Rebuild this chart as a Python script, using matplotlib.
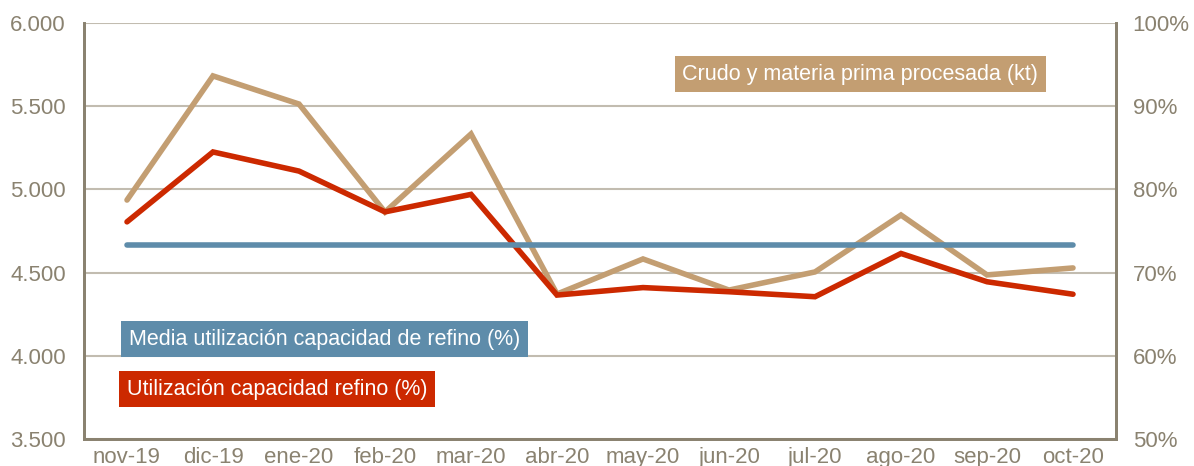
import matplotlib.pyplot as plt
import numpy as np

plt.rcParams['font.family'] = ['Liberation Sans', 'DejaVu Sans']

meses = ["nov-19", "dic-19", "ene-20", "feb-20", "mar-20", "abr-20",
         "may-20", "jun-20", "jul-20", "ago-20", "sep-20", "oct-20"]
crudo_kt = [4936, 5682, 5513, 4864, 5333, 4371, 4582, 4395, 4504, 4846, 4486, 4528]
utilizacion = [76.1, 84.5, 82.2, 77.3, 79.4, 67.3, 68.2, 67.7, 67.1, 72.3, 68.9, 67.4]
media_utilizacion = 73.3

c_tan = "#C39E72"
c_red = "#CC2900"
c_blue = "#5E8CAA"
c_axis = "#8A8270"
c_grid = "#C2BCB0"

x = np.arange(len(meses))

fig = plt.figure(figsize=(11.94, 4.66), dpi=100)
ax = fig.add_axes([84 / 1194, 1 - 439 / 466, 1032 / 1194, 416 / 466])
ax2 = ax.twinx()

ax.set_xlim(-0.5, len(meses) - 0.5)
ax.set_ylim(3500, 6000)
ax.set_yticks([3500, 4000, 4500, 5000, 5500, 6000])
ax.set_yticklabels(["3.500", "4.000", "4.500", "5.000", "5.500", "6.000"])
ax.grid(axis="y", color=c_grid, linewidth=1.5)
ax.set_axisbelow(True)

ax2.set_ylim(50, 100)
ax2.set_yticks([50, 60, 70, 80, 90, 100])
ax2.set_yticklabels([f"{v}%" for v in range(50, 101, 10)])

ax.set_xticks(x)
ax.set_xticklabels(meses)

for a in (ax, ax2):
    a.tick_params(length=0, labelsize=16, labelcolor=c_axis)
    a.spines["top"].set_visible(False)
    for s in ("left", "right", "bottom"):
        a.spines[s].set_color(c_axis)
        a.spines[s].set_linewidth(2)
ax.tick_params(axis="y", pad=13)
ax2.tick_params(axis="y", pad=12)
ax.tick_params(axis="x", pad=6)

ax.plot(x, crudo_kt, color=c_tan, linewidth=4, solid_capstyle="round",
        solid_joinstyle="miter")
ax2.plot(x, utilizacion, color=c_red, linewidth=4, solid_capstyle="round",
         solid_joinstyle="miter")
ax2.plot(x, np.full(len(meses), media_utilizacion), color=c_blue,
         linewidth=4, solid_capstyle="round")

# etiquetas de las series
box = dict(boxstyle="square,pad=0.35", edgecolor="none")
ax.text(0.752, 0.877, "Crudo y materia prima procesada (kt)", transform=ax.transAxes,
        ha="center", va="center", fontsize=15.5, color="white",
        bbox=dict(box, facecolor=c_tan))
ax.text(0.233, 0.240, "Media utilización capacidad de refino (%)", transform=ax.transAxes,
        ha="center", va="center", fontsize=15.5, color="white",
        bbox=dict(box, facecolor=c_blue))
ax.text(0.187, 0.120, "Utilización capacidad refino (%)", transform=ax.transAxes,
        ha="center", va="center", fontsize=15.5, color="white",
        bbox=dict(box, facecolor=c_red))

fig.savefig("out.png", dpi=100)
